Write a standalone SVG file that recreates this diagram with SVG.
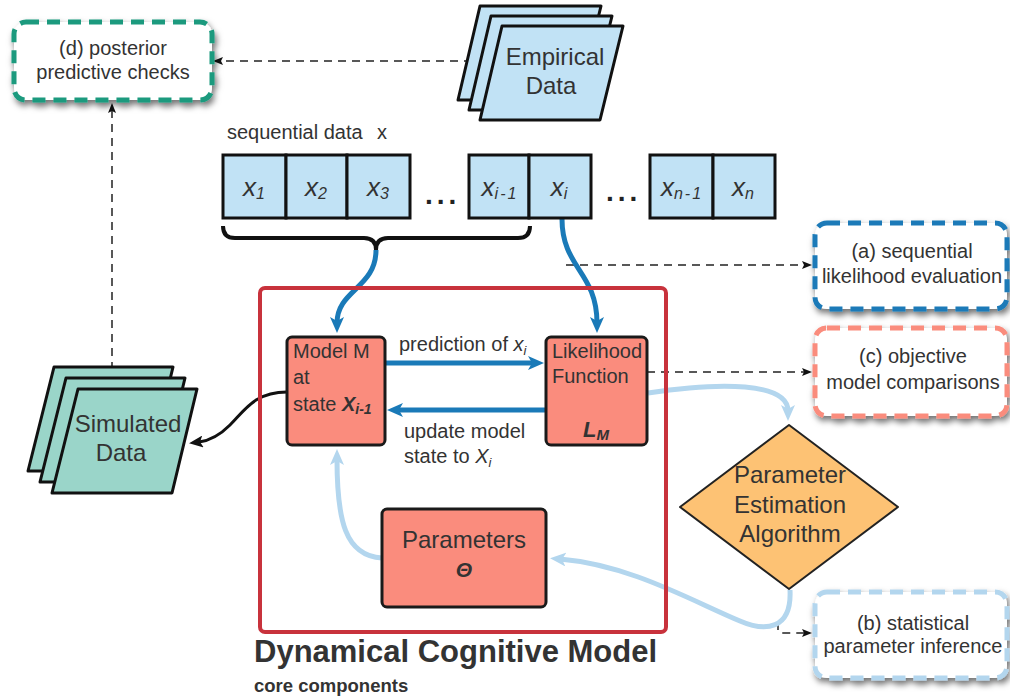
<svg xmlns="http://www.w3.org/2000/svg" width="1010" height="699" viewBox="0 0 1010 699">
<defs>
<style>
text{font-family:"Liberation Sans",Arial,sans-serif;fill:#333333}
.t20{font-size:20px}
.t24{font-size:24px}
.mid{text-anchor:middle}
.dbox{fill:#ffffff;stroke-width:5;stroke-dasharray:13 8;filter:url(#sh)}
.sheet{stroke:#111;stroke-width:3;stroke-linejoin:round}
.emp{fill:#c1e2f5}
.sim{fill:#9ad5c9}
.cell{fill:#c1e2f5;stroke:#111;stroke-width:3}
.seq{font-style:italic;font-size:26px}
.sub{font-size:16px;letter-spacing:2px}
.core{fill:#fa8c7d;stroke:#1a1a1a;stroke-width:3}
.dk{fill:none;stroke:#222;stroke-width:1.5;stroke-dasharray:8 6}
.bl{fill:none;stroke:#1a7ab8;stroke-width:5}
.lb{fill:none;stroke:#b3d6ee;stroke-width:5}
.dots{font-size:28px;font-weight:bold;letter-spacing:4px;fill:#222}
</style>
<filter id="sh" x="-10%" y="-15%" width="125%" height="140%">
<feDropShadow dx="2" dy="4" stdDeviation="3" flood-color="#000" flood-opacity="0.55"/>
</filter>
<marker id="ab" viewBox="0 0 16 14" markerWidth="16" markerHeight="14" refX="6" refY="7" orient="auto" markerUnits="userSpaceOnUse"><path d="M0,0 L16,7 L0,14 L4,7 Z" fill="#1a7ab8"/></marker>
<marker id="alb" viewBox="0 0 16 14" markerWidth="16" markerHeight="14" refX="6" refY="7" orient="auto" markerUnits="userSpaceOnUse"><path d="M0,0 L16,7 L0,14 L4,7 Z" fill="#b3d6ee"/></marker>
<marker id="ak" viewBox="0 0 10 8" markerWidth="10" markerHeight="8" refX="4" refY="4" orient="auto" markerUnits="userSpaceOnUse"><path d="M0,0 L10,4 L0,8 L2,4 Z" fill="#111"/></marker>
<marker id="akc" viewBox="0 0 14 12" markerWidth="14" markerHeight="12" refX="4" refY="6" orient="auto" markerUnits="userSpaceOnUse"><path d="M0,0 L14,6 L0,12 L3,6 Z" fill="#111"/></marker>
</defs>
<rect width="1010" height="699" fill="#ffffff"/>

<g id="connectors">
<path class="dk" d="M472,61 L219,61" marker-end="url(#ak)"/>
<path class="dk" d="M112,370 L112,109" marker-end="url(#ak)"/>
<path class="dk" d="M566,265 L806,265" marker-end="url(#ak)"/>
<path class="dk" d="M647,372 L806,372" marker-end="url(#ak)"/>
<path class="dk" d="M778,622 L778,630 Q778,633 781,633 L806,633" marker-end="url(#ak)"/>
<path d="M223,226 Q223,238 235,238 L364,238 Q376,238 376,250 Q376,238 388,238 L518,238 Q530,238 530,226" fill="none" stroke="#111" stroke-width="4"/>
<path class="bl" d="M376,250 C376,288 337,290 337,323" marker-end="url(#ab)"/>
<path class="bl" d="M562,219 C562,268 597,272 597,323" marker-end="url(#ab)"/>
<path class="bl" d="M386,363 L534,363" marker-end="url(#ab)"/>
<path class="bl" d="M546,410 L397,410" marker-end="url(#ab)"/>
<path class="lb" d="M648,393 C720,382 788,382 788,411" marker-end="url(#alb)"/>
<path class="lb" d="M382,558 C345,556 337,520 337,459" marker-end="url(#alb)"/>
<path class="lb" d="M790,590 C792,630 765,632 740,621 C690,600 630,565 560,559" marker-end="url(#alb)"/>
<path d="M287,392 C255,392 245,410 230,425 C218,437 207,441 199,442" fill="none" stroke="#111" stroke-width="3" marker-end="url(#akc)"/>
</g>

<g id="d-posterior">
<rect class="dbox" x="14" y="22" width="198" height="78" rx="12" stroke="#1a9a7e"/>
<text class="t20 mid" x="113" y="55">(d) posterior</text>
<text class="t20 mid" x="113" y="79">predictive checks</text>
</g>

<g id="empirical-data">
<path class="sheet emp" d="M480,6 L601,6 L578,100 L458,100 Z"/>
<path class="sheet emp" d="M491,16 L612,16 L589,110 L469,110 Z"/>
<path class="sheet emp" d="M502,26 L623,26 L600,120 L480,120 Z"/>
<text class="t24 mid" x="555" y="65">Empirical</text>
<text class="t24 mid" x="551" y="94">Data</text>
</g>

<g id="sequential-data">
<text x="227" y="139" class="t20">sequential data</text>
<text x="377" y="139" class="t20">x</text>
<rect class="cell" x="223" y="155" width="63" height="63"/>
<rect class="cell" x="286" y="155" width="61" height="63"/>
<rect class="cell" x="347" y="155" width="63" height="63"/>
<rect class="cell" x="469" y="155" width="60" height="63"/>
<rect class="cell" x="529" y="155" width="62" height="63"/>
<rect class="cell" x="650" y="155" width="63" height="63"/>
<rect class="cell" x="713" y="155" width="62" height="63"/>
<text class="seq mid" x="255" y="196">x<tspan class="sub" dy="3">1</tspan></text>
<text class="seq mid" x="317" y="196">x<tspan class="sub" dy="3">2</tspan></text>
<text class="seq mid" x="379" y="196">x<tspan class="sub" dy="3">3</tspan></text>
<text class="seq mid" x="500" y="196">x<tspan class="sub" dy="3">i-1</tspan></text>
<text class="seq mid" x="560" y="196">x<tspan class="sub" dy="3">i</tspan></text>
<text class="seq mid" x="682" y="196">x<tspan class="sub" dy="3">n-1</tspan></text>
<text class="seq mid" x="744" y="196">x<tspan class="sub" dy="3">n</tspan></text>
<text class="dots" x="425" y="204">...</text>
<text class="dots" x="606" y="201">...</text>
</g>

<g id="a-sequential">
<rect class="dbox" x="815" y="223" width="192" height="86" rx="12" stroke="#1a7ab8"/>
<text class="t20 mid" x="912" y="258">(a) sequential</text>
<text class="t20 mid" x="912" y="283">likelihood evaluation</text>
</g>

<g id="c-objective">
<rect class="dbox" x="815" y="328" width="192" height="88" rx="12" stroke="#fa8c7d"/>
<text class="t20 mid" x="913" y="363">(c) objective</text>
<text class="t20 mid" x="913" y="389">model comparisons</text>
</g>

<g id="b-statistical">
<rect class="dbox" x="815" y="592" width="192" height="86" rx="12" stroke="#b3d6ee"/>
<text class="t20 mid" x="913" y="630">(b) statistical</text>
<text class="t20 mid" x="913" y="653">parameter inference</text>
</g>

<g id="dynamical-cognitive-model">
<rect x="260" y="288" width="406" height="344" rx="5" fill="none" stroke="#c8323c" stroke-width="4"/>
<text x="254" y="662" style="font-size:31px;font-weight:bold">Dynamical Cognitive Model</text>
<text x="254" y="692" style="font-size:18.5px;font-weight:bold">core components</text>
</g>

<g id="model-m">
<rect class="core" x="287" y="337" width="98" height="108" rx="5"/>
<text class="t20" x="293" y="358">Model M</text>
<text class="t20" x="293" y="384">at</text>
<text class="t20" x="293" y="411">state <tspan style="font-weight:bold;font-style:italic">X</tspan><tspan style="font-weight:bold;font-style:italic;font-size:14px" dy="3">i-1</tspan></text>
</g>

<g id="likelihood">
<rect class="core" x="546" y="337" width="101" height="108" rx="5"/>
<text class="t20" x="552" y="358">Likelihood</text>
<text class="t20" x="552" y="383">Function</text>
<text x="596" y="437" class="mid" style="font-size:22px;font-weight:bold;font-style:italic">L<tspan style="font-size:15px" dy="3">M</tspan></text>
</g>

<g id="edge-labels">
<text class="t20" x="399" y="351">prediction of <tspan style="font-style:italic">x</tspan><tspan style="font-style:italic;font-size:13px" dy="4">i</tspan></text>
<text class="t20" x="404" y="438">update model</text>
<text class="t20" x="404" y="463">state to <tspan style="font-style:italic">X</tspan><tspan style="font-style:italic;font-size:13px" dy="4">i</tspan></text>
</g>

<g id="parameters">
<rect class="core" x="382" y="509" width="164" height="98" rx="5"/>
<text class="t24 mid" x="464" y="548">Parameters</text>
<text class="mid" x="464" y="577" style="font-size:21px;font-weight:bold;font-style:italic">Θ</text>
</g>

<g id="parameter-estimation">
<path d="M789,425 L898,507 L789,589 L680,507 Z" fill="#fdc274" stroke="#222" stroke-width="2" stroke-linejoin="round"/>
<text class="t24 mid" x="790" y="483">Parameter</text>
<text class="t24 mid" x="790" y="513">Estimation</text>
<text class="t24 mid" x="790" y="542">Algorithm</text>
</g>

<g id="simulated-data">
<path class="sheet sim" d="M54,367 L173,367 L148,471 L28,471 Z"/>
<path class="sheet sim" d="M66,378 L185,378 L160,482 L40,482 Z"/>
<path class="sheet sim" d="M78,389 L197,389 L172,493 L52,493 Z"/>
<text class="t24 mid" x="128" y="432">Simulated</text>
<text class="t24 mid" x="121" y="461">Data</text>
</g>
</svg>
